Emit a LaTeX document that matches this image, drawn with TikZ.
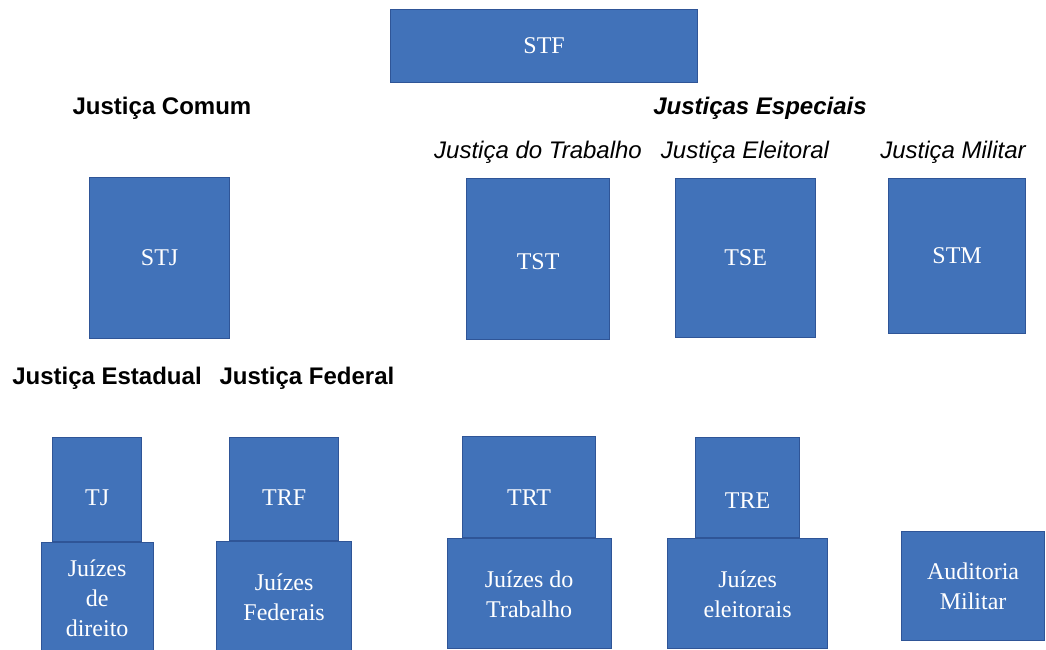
\documentclass[tikz,border=0pt]{standalone}
\usepackage{fontspec}
\setmainfont{Liberation Serif}
\setsansfont{Liberation Sans}
\usetikzlibrary{%
	positioning
}
\definecolor{boxfill}{RGB}{65,114,185}
\definecolor{boxedge}{RGB}{47,85,151}

\begin{document}
\begin{tikzpicture}[x=1pt,y=-1pt,
		court/.style={draw=boxedge,fill=boxfill,line width=1.2pt,text=white,shape=rectangle,align=center,inner sep=0pt,font=\rmfamily\fontsize{24}{30}\selectfont},
		top/.style={court,anchor=north west},
		lowered/.style={text height=#1,text depth=0pt},
		judges/.style={court,below=0pt of #1},
		branch/.style={inner sep=0pt,font=\sffamily\bfseries\fontsize{24}{28}\selectfont},
		sub/.style={inner sep=0pt,font=\sffamily\itshape\fontsize{24}{28}\selectfont}
	]
	\clip (0,0) rectangle (1046,649);
	
		\node(STF) [top, minimum width=307pt, minimum height=73pt] at (390,9) {STF};
		
		\node(comum) [branch] at (162,108) {Justiça Comum};
		\node(especiais) [branch, font=\sffamily\bfseries\itshape\fontsize{24}{28}\selectfont] at (760,108) {Justiças Especiais};
		
		\node(trabalho) [sub] at (538,152) {Justiça do Trabalho};
		\node(eleitoral) [sub] at (745,152) {Justiça Eleitoral};
		\node(militar) [sub] at (953,152) {Justiça Militar};
		
		\node(STJ) [top, minimum width=140pt, minimum height=161pt] at (89,177) {STJ};
		\node(TST) [top, lowered=20pt, minimum width=143pt, minimum height=161pt] at (466,178) {TST};
		\node(TSE) [top, minimum width=140pt, minimum height=159pt] at (675,178) {TSE};
		\node(STM) [top, minimum width=137pt, minimum height=155pt] at (888,178) {STM};
		
		\node(estadual) [branch] at (107,378) {Justiça Estadual};
		\node(federal) [branch] at (307,378) {Justiça Federal};
		
		%tribunais regionais
		\node(TJ) [top, lowered=32pt, minimum width=89pt, minimum height=104pt] at (52,437) {TJ};
		\node(TRF) [top, lowered=33pt, minimum width=109pt, minimum height=103pt] at (229,437) {TRF};
		\node(TRT) [top, lowered=36pt, minimum width=133pt, minimum height=101pt] at (462,436) {TRT};
		\node(TRE) [top, lowered=41pt, minimum width=104pt, minimum height=100pt] at (695,437) {TRE};
		
		%primeira instancia
		\node(JD) [judges=TJ, minimum width=112pt, minimum height=110pt] {Juízes\\de\\direito};
		\node(JF) [judges=TRF, minimum width=135pt, minimum height=110pt] {Juízes\\Federais};
		\node(JT) [judges=TRT, minimum width=164pt, minimum height=110pt] {Juízes do\\Trabalho};
		\node(JE) [judges=TRE, minimum width=160pt, minimum height=110pt] {Juízes\\eleitorais};
		\node(AM) [top, minimum width=143pt, minimum height=109pt] at (901,531) {Auditoria\\Militar};
		
\end{tikzpicture}
\end{document}
